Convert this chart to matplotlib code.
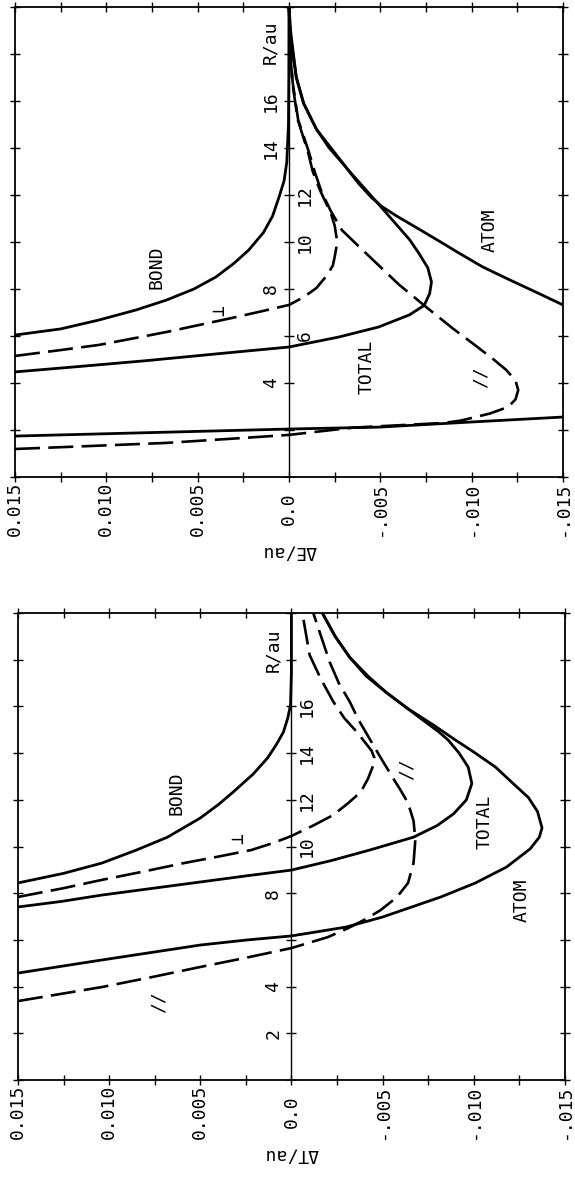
import numpy as np
import matplotlib
matplotlib.use("Agg")
import matplotlib.pyplot as plt

plt.rcParams["font.family"] = ["DejaVu Sans Mono", "DejaVu Sans"]
plt.rcParams["lines.scale_dashes"] = False

nan = np.nan

# ---------------------------------------------------------------------------
# Panel superior: Delta E / au
# ---------------------------------------------------------------------------
R_BOND_E = [6.04, 6.3, 6.68, 7.1, 7.53, 8.0, 8.51, 9.1, 9.66, 10.4, 11.1,
            11.9, 12.6, 13.4, 15.0, 17.0, 20.0]
BOND_E = [0.0150, 0.0125, 0.0104, 0.0084, 0.0067, 0.0052, 0.0040, 0.0030,
          0.0022, 0.0014, 0.0009, 0.00055, 0.00027, 0.00012, 0.00003, 0.00001, 0.0]

R_PERP_E = [5.15, 5.4, 5.62, 5.9, 6.17, 6.47, 6.77, 7.05, 7.32, 7.65, 8.04,
            8.6, 9.0, 9.36, 9.8, 10.2, 10.7, 11.2, 11.7, 12.2, 13.0, 13.8,
            15.2, 16.8, 18.5, 20.0]
PERP_E = [0.015, 0.0125, 0.0104, 0.0085, 0.0067, 0.0049, 0.0031, 0.0015, 0.0,
          -0.0008, -0.0015, -0.0021, -0.0024, -0.0025, -0.0026, -0.0026,
          -0.0025, -0.0023, -0.0020, -0.0017, -0.0013, -0.00105, -0.00048,
          -0.00018, -0.00004, 0.0]

R_TOTAL_E = [4.47, 4.7, 4.95, 5.25, 5.53, 5.95, 6.38, 6.9, 7.3, 7.8, 8.3,
             8.9, 9.53, 10.1, 10.9, 11.7, 12.4, 13.1, 14.0, 14.8, 15.9, 17.0,
             18.9, 20.0]
TOTAL_E = [0.015, 0.0115, 0.0078, 0.0038, 0.0, -0.0027, -0.0049, -0.0066,
           -0.0074, -0.0077, -0.0078, -0.0076, -0.0071, -0.0066, -0.0057,
           -0.0048, -0.0040, -0.0032, -0.0023, -0.0015, -0.0008, -0.0004,
           -0.00005, 0.0]

R_PAR_E = [1.19, 1.32, 1.45, 1.62, 1.79, 1.95, 2.1, 2.2, 2.3, 2.4, 2.51, 2.7,
           2.98, 3.3, 3.7, 4.1, 4.55, 5.0, 5.6, 6.3, 6.8, 7.3, 7.75, 8.2, 8.94,
           9.53, 10.5, 11.3, 12.1, 13.0, 13.8, 15.2, 16.8, 18.5, 20.0]
PAR_E = [0.015, 0.0108, 0.0067, 0.0033, 0.0, -0.0018, -0.0035, -0.0060,
         -0.0085, -0.0094, -0.0100, -0.0110, -0.0120, -0.0124, -0.01255,
         -0.0124, -0.0119, -0.0112, -0.0102, -0.0090, -0.0082, -0.0074,
         -0.0067, -0.0060, -0.0050, -0.0042, -0.0029, -0.0023, -0.0018,
         -0.0014, -0.0011, -0.0005, -0.0002, -0.00005, 0.0]

R_ATOM_E = [1.74, 2.04, 2.12, 2.34, 2.55, nan, 7.32, 7.8, 8.38, 8.94, 9.53,
            10.0, 10.6, 11.1, 11.5, 11.9, 12.5, 13.2, 14.0, 14.8, 15.9, 17.0,
            18.9, 20.0]
ATOM_E = [0.015, 0.0, -0.0049, -0.0100, -0.015, nan, -0.015, -0.0137,
          -0.0121, -0.0106, -0.0093, -0.0083, -0.0070, -0.0059, -0.0051,
          -0.0045, -0.0038, -0.0031, -0.0022, -0.0015, -0.0008, -0.0004,
          -0.0001, 0.0]

# ---------------------------------------------------------------------------
# Panel inferior: Delta T / au
# ---------------------------------------------------------------------------
R_BOND_T = [8.44, 8.85, 9.29, 9.85, 10.4, 11.22, 11.8, 12.33, 13.1, 13.8,
            14.4, 14.9, 15.5, 16.06, 17.5, 20.0]
BOND_T = [0.015, 0.0125, 0.0104, 0.0085, 0.0068, 0.0050, 0.0040, 0.0032,
          0.0021, 0.0013, 0.0008, 0.00044, 0.0002, 0.00005, 0.0, 0.0]

R_PERP_T = [7.84, 8.2, 8.57, 8.93, 9.29, 9.57, 9.85, 10.15, 10.45, 10.9,
            11.35, 11.85, 12.33, 12.9, 13.5, 13.8, 14.1, 14.5, 14.9, 15.5,
            16.2, 17.2, 18.2, 20.0]
PERP_T = [0.015, 0.0126, 0.0104, 0.0081, 0.0059, 0.0040, 0.0022, 0.0010,
          0.0, -0.0012, -0.0023, -0.0031, -0.0038, -0.0042, -0.0045, -0.00455,
          -0.0044, -0.0040, -0.0036, -0.0029, -0.0023, -0.0016, -0.0010, -0.0006]

R_TOTAL_T = [7.41, 7.65, 7.92, 8.2, 8.48, 8.74, 8.99, 9.4, 9.85, 10.4, 10.9,
             11.4, 12.0, 12.7, 13.4, 14.0, 14.56, 14.9, 15.6, 16.6, 17.3,
             18.1, 19.0, 20.0]
TOTAL_T = [0.015, 0.0126, 0.0104, 0.0077, 0.005, 0.0025, 0.0, -0.0022,
           -0.0043, -0.0067, -0.0080, -0.0089, -0.0096, -0.0099, -0.0097,
           -0.0092, -0.0086, -0.0081, -0.0069, -0.0052, -0.0042, -0.0032,
           -0.0024, -0.0017]

R_PAR_T = [3.38, 3.68, 3.98, 4.4, 4.84, 5.25, 5.65, 6.12, 6.5, 6.9, 7.28,
           7.84, 8.44, 9.29, 10.3, 11.1, 11.86, 12.4, 12.9, 13.8, 14.6, 15.4,
           16.2, 17.0, 17.9, 20.0]
PAR_T = [0.015, 0.0127, 0.0104, 0.0077, 0.005, 0.0024, 0.0, -0.0020, -0.0031,
         -0.0041, -0.0049, -0.0058, -0.0064, -0.0067, -0.0068, -0.0067,
         -0.0064, -0.0060, -0.0056, -0.0049, -0.0043, -0.0037, -0.0032,
         -0.0026, -0.0021, -0.0012]

R_ATOM_T = [4.58, 4.86, 5.14, 5.46, 5.78, 6.0, 6.17, 6.55, 6.98, 7.49, 7.84,
            8.44, 9.12, 9.9, 10.4, 10.8, 11.5, 12.1, 12.6, 13.4, 14.05, 14.56,
            15.2, 15.9, 16.6, 17.3, 18.1, 19.0, 20.0]
ATOM_T = [0.015, 0.0127, 0.0104, 0.0077, 0.005, 0.0024, 0.0, -0.0030,
          -0.0050, -0.0069, -0.0082, -0.0101, -0.0118, -0.0131, -0.0136,
          -0.01375, -0.0135, -0.0130, -0.0123, -0.0112, -0.0100, -0.0090,
          -0.0078, -0.0064, -0.0052, -0.0041, -0.0032, -0.0024, -0.0017]

# ejes
E_TICKS = [0.015, 0.0125, 0.010, 0.0075, 0.005, 0.0025, 0.0,
           -0.0025, -0.005, -0.0075, -0.010, -0.0125, -0.015]
E_LABEL_POS = [0.015, 0.010, 0.005, 0.0, -0.005, -0.010, -0.015]
E_LABELS = ["0.015", "0.010", "0.005", "0.0", "-.005", "-.010", "-.015"]
R_TICKS = [0, 2, 4, 6, 8, 10, 12, 14, 16, 18, 20]

# etiquetas de R sobre la línea cero: (R, texto, lado)
R_LABELS_E = [(18.5, "R/au", "L"), (16, "16", "L"), (14, "14", "L"),
              (12, "12", "R"), (10, "10", "R"), (8, "8", "L"),
              (6, "6", "R"), (4, "4", "L")]
R_LABELS_T = [(18.4, "R/au", "L"), (16, "16", "R"), (14, "14", "R"),
              (12, "12", "R"), (10, "10", "R"), (8, "8", "L"),
              (4, "4", "L"), (2, "2", "L")]

# nombres de curvas: (valor, R, texto)
NAMES_E = [(0.00725, 8.94, "BOND"), (0.0038, 7.1, "\u22a5"),
           (-0.00425, 4.68, "TOTAL"), (-0.0105, 4.26, "//"),
           (-0.0110, 10.5, "ATOM")]
NAMES_T = [(0.0063, 12.3, "BOND"), (0.0029, 10.36, "\u22a5"),
           (-0.0063, 13.3, "//"), (-0.0106, 11.05, "TOTAL"),
           (-0.01265, 7.7, "ATOM"), (0.0073, 3.34, "//")]

FS = 13
SOLID = dict(color="black", lw=2.0, solid_joinstyle="round",
             solid_capstyle="round")
DASH = dict(color="black", lw=1.9, ls=(0, (18, 6)), dash_joinstyle="round")


def draw_panel(ax, curves, r_labels, names, ylabel):
    ax.set_xlim(0.015, -0.015)
    ax.set_ylim(0, 20)
    for r, v, style in curves:
        ax.plot(v, r, **style)

    ax.axvline(0.0, color="black", lw=1.0)
    ax.plot([0.0] * len(R_TICKS), R_TICKS, ls="none", marker="_",
            ms=7, mew=1.0, color="black")

    ax.set_xticks(E_TICKS)
    ax.set_xticklabels([])
    ax.set_yticks(R_TICKS)
    ax.set_yticklabels([])
    ax.tick_params(direction="inout", length=7, width=1.0,
                   top=True, right=True, bottom=True, left=True)
    for s in ax.spines.values():
        s.set_linewidth(1.3)

    for v, lab in zip(E_LABEL_POS, E_LABELS):
        ax.annotate(lab, xy=(v, 0), xycoords=("data", "axes fraction"),
                    xytext=(0, -23), textcoords="offset points",
                    rotation=90, ha="center", va="center", fontsize=FS)
    ax.annotate(ylabel, xy=(0.0, 0), xycoords=("data", "axes fraction"),
                xytext=(0, -54), textcoords="offset points",
                rotation=180, ha="center", va="center", fontsize=FS)

    for r, lab, side in r_labels:
        x = 0.001 if side == "L" else -0.00085
        ax.text(x, r, lab, rotation=90, ha="center", va="center", fontsize=FS)

    for v, r, lab in names:
        ax.text(v, r, lab, rotation=90, ha="center", va="center", fontsize=FS)


fig = plt.figure(figsize=(5.75, 11.78), dpi=100)
ax_e = fig.add_axes([0.0261, 0.5951, 0.953, 0.399])
ax_t = fig.add_axes([0.0313, 0.0832, 0.951, 0.3964])

draw_panel(ax_e, [
    (R_BOND_E, BOND_E, SOLID),
    (R_PERP_E, PERP_E, DASH),
    (R_TOTAL_E, TOTAL_E, SOLID),
    (R_PAR_E, PAR_E, DASH),
    (R_ATOM_E, ATOM_E, SOLID),
], R_LABELS_E, NAMES_E, "\u0394E/au")

draw_panel(ax_t, [
    (R_BOND_T, BOND_T, SOLID),
    (R_PERP_T, PERP_T, DASH),
    (R_TOTAL_T, TOTAL_T, SOLID),
    (R_PAR_T, PAR_T, DASH),
    (R_ATOM_T, ATOM_T, SOLID),
], R_LABELS_T, NAMES_T, "\u0394T/au")

fig.savefig("out.png", dpi=100)
